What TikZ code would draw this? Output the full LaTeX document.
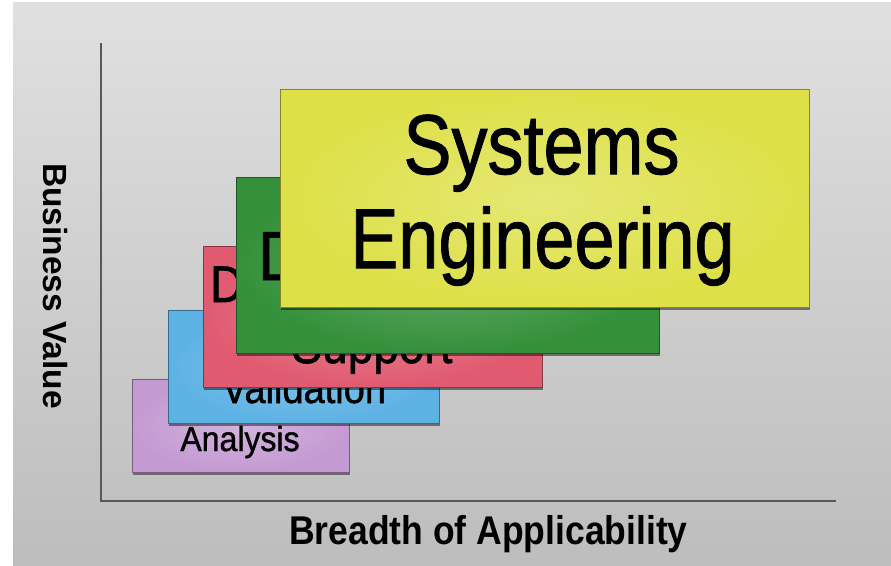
\documentclass[tikz,border=0pt]{standalone}
\usepackage{fontspec}
\setmainfont{Liberation Sans}
\newfontfamily\cardfont[FakeBold=1.2]{Liberation Sans}
\usepackage{graphicx}
\usetikzlibrary{positioning}
\usetikzlibrary{shadows}

\definecolor{bgtop}{HTML}{E0E0E0}
\definecolor{bgbot}{HTML}{BDBDBD}
\definecolor{cardpurple}{HTML}{C49AD2}
\definecolor{cardblue}{HTML}{5DB2E4}
\definecolor{cardred}{HTML}{E05A70}
\definecolor{cardgreen}{HTML}{34903A}
\definecolor{cardyellow}{HTML}{DDE046}

\newcommand\sized[3]{{\fontsize{#1pt}{#1pt}\selectfont\scalebox{1}[#2]{#3}}}

\begin{document}
\begin{tikzpicture}[x=1pt,y=-1pt,
	card/.style={rectangle,draw=#1!60!black,line width=0.8pt,inner color=#1!75!white,outer color=#1,
		drop shadow={shadow xshift=1pt,shadow yshift=-2.5pt,opacity=.45,fill=black}},
	word/.style={anchor=base,inner sep=0pt,text=black,font=\cardfont},
	axis/.style={draw=black!65,line width=1.2pt}]
	\fill[white] (0,0) rectangle (891,565);
	\useasboundingbox (0,0) rectangle (891,565);
	\shade[top color=bgtop,bottom color=bgbot] (13,2) rectangle (891,565);

	% axes
	\path (101,501) coordinate (origin)
	++ (0,-458) coordinate (ytop)
	(origin) ++ (735,0) coordinate (xend);
	\draw[axis] (ytop) -- (origin) -- (xend);
	\node[word,font=\bfseries,rotate=-90] (yl) at (43,286) {\sized{33.5}{1}{Business Value}};
	\node[word,font=\bfseries] (xl) at (488.5,544) {\sized{35.5}{1.13}{Breadth of Applicability}};

	% cards, back to front
	\node[card=cardpurple,minimum width=217pt,minimum height=93pt] (analysis) at (240.5,425.5) {};
	\node[word] (analysisT) at (240,451) {\sized{32}{1.09}{Analysis}};

	\node[card=cardblue,minimum width=271pt,minimum height=113pt] (valid) at (303.5,366.5) {};
	\node[word] (validT) at (304,403) {\sized{38}{1.12}{Validation}};

	\node[card=cardred,minimum width=339pt,minimum height=141pt] (support) at (372.5,316.5) {};
	\node[word,anchor=base west] (supportD) at (210,302) {\sized{46}{1.12}{D}};
	\node[word] (supportT) at (372,363) {\sized{46}{1.12}{Support}};

	\node[card=cardgreen,minimum width=423pt,minimum height=176pt] (green) at (447.5,265) {};
	\node[word,anchor=base west] (greenD) at (258,280) {\sized{62}{1.12}{D}};

	\node[card=cardyellow,minimum width=529pt,minimum height=218pt] (syseng) at (544.5,198) {};
	\node[word] (sysT) at (541.5,174) {\sized{72}{1.18}{Systems}};
	\node[word] (engT) at (542.5,268) {\sized{72}{1.18}{Engineering}};
\end{tikzpicture}
\end{document}
